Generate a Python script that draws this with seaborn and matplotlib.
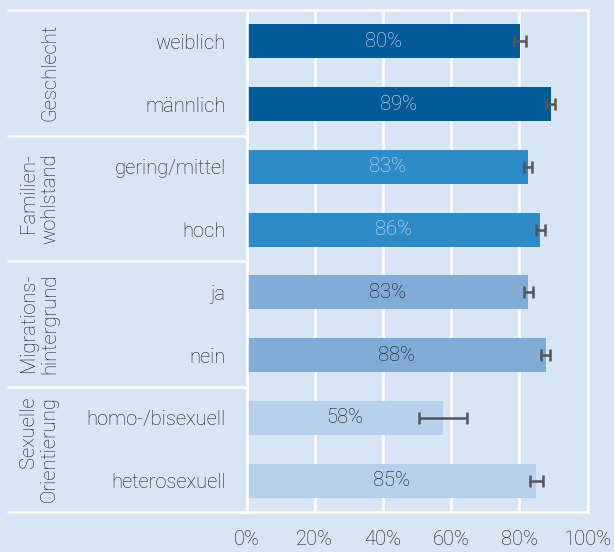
import numpy as np
import pandas as pd
import matplotlib
matplotlib.use("Agg")
import matplotlib.pyplot as plt
import matplotlib.transforms as mtransforms
import seaborn as sns

# data
categories = ["weiblich", "männlich", "gering/mittel", "hoch",
              "ja", "nein", "homo-/bisexuell", "heterosexuell"]
values = [80.2, 89.2, 82.6, 86.2, 82.6, 87.7, 57.6, 85.0]
errors = [1.7, 1.4, 1.2, 1.2, 1.3, 1.3, 7.0, 1.9]
groups = ["Geschlecht", "Familien-\nwohlstand", "Migrations-\nhintergrund", "Sexuelle\nOrientierung"]
group_sizes = [2, 2, 2, 2]
group_colors = ["#025b97", "#2d8bc7", "#82acd8", "#b8d0eb"]
label_colors = ["#d2e3f5", "#d2e3f5", "#151515", "#151515"]
x_ticks = [0, 20, 40, 60, 80, 100]

bg = "#d8e5f4"
txt = "#1a1a1a"

sns.set_theme(style="white")
plt.rcParams["font.family"] = ["Roboto", "DejaVu Sans"]

df = pd.DataFrame({"category": categories, "value": values})
bar_colors = [c for c, n in zip(group_colors, group_sizes) for _ in range(n)]
txt_colors = [c for c, n in zip(label_colors, group_sizes) for _ in range(n)]

fig = plt.figure(figsize=(6.14, 5.52), dpi=100, facecolor=bg)
ax = fig.add_axes([246.5 / 614, 40 / 552, 341 / 614, 502 / 552])
ax.set_facecolor(bg)

sns.barplot(data=df, x="value", y="category", hue="category", palette=bar_colors,
            legend=False, width=0.54, saturation=1, linewidth=0, ax=ax, zorder=2)

ypos = np.arange(len(categories))
ax.errorbar(values, ypos, xerr=errors, fmt="none", ecolor="#555555",
            elinewidth=1.8, capsize=4.5, capthick=1.8, zorder=3)

for y, v, c in zip(ypos, values, txt_colors):
    ax.text(v / 2, y, f"{round(v)}%", ha="center", va="center", color=c,
            fontsize=14.5, fontweight="light", zorder=4)

ax.set_xlim(0, 100)
ax.set_ylim(len(categories) - 0.5, -0.5)
ax.set_xticks(x_ticks)
ax.set_xticklabels([f"{t}%" for t in x_ticks])
ax.xaxis.grid(True, color="white", linewidth=1.8, zorder=0)
ax.set_axisbelow(True)
ax.set_xlabel("")
ax.set_ylabel("")
for s in ax.spines.values():
    s.set_color("white")
    s.set_linewidth(1.8)
ax.tick_params(axis="x", length=0, pad=13, labelsize=14.5, labelcolor=txt)
ax.tick_params(axis="y", length=0, pad=15, labelsize=14.5, labelcolor=txt)
for lab in ax.get_xticklabels() + ax.get_yticklabels():
    lab.set_fontweight("light")

# group separators and group labels on the left
trans = mtransforms.blended_transform_factory(ax.transAxes, ax.transData)
left = -(246.5 - 8) / 341
start = 0
for g, n in zip(groups, group_sizes):
    top = start - 0.5
    ax.plot([left, 0], [top, top], color="white", lw=1.8, transform=trans, clip_on=False)
    mid = start + (n - 1) / 2
    ax.text(-(246.5 - 59) / 341, mid, g, transform=trans, rotation=90, ha="right",
            va="center", fontsize=14.5, fontweight="light", color=txt,
            linespacing=1.15)
    start += n
ax.plot([left, 0], [start - 0.5, start - 0.5], color="white", lw=1.8,
        transform=trans, clip_on=False)

fig.savefig("out.png", dpi=100, facecolor=bg)
